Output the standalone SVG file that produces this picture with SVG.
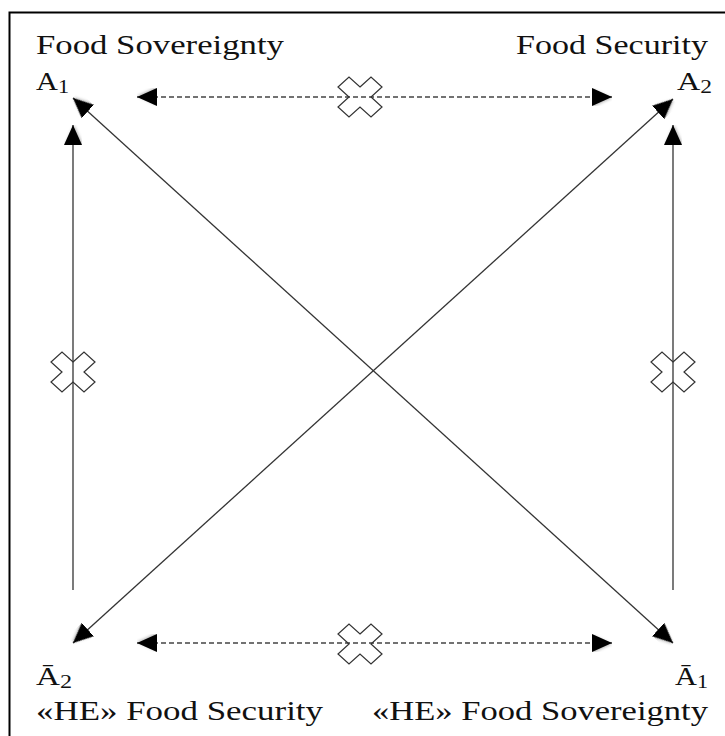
<svg xmlns="http://www.w3.org/2000/svg" width="725" height="736" viewBox="0 0 725 736">
  <style>
    .lbl { font-size: 28px; fill: #111; }
    .sym { font-size: 26px; fill: #111; }
    .sub { font-size: 19px; }
    .solid { stroke: #333; stroke-width: 1.3; fill: none; }
    .dash { stroke: #444; stroke-width: 1.3; fill: none; stroke-dasharray: 5 3; }
    .cross { fill: none; stroke: #333; stroke-width: 1.2; stroke-linejoin: miter; }
  </style>
  <defs>
    <filter id="sh" x="-50%" y="-50%" width="200%" height="200%">
      <feDropShadow dx="0" dy="1" stdDeviation="1.5" flood-color="#000" flood-opacity="0.3"/>
    </filter>
    <marker id="ah" viewBox="0 0 20 18" refX="20" refY="9" markerWidth="20" markerHeight="18" markerUnits="userSpaceOnUse" orient="auto-start-reverse">
      <path d="M0,0 L20,9 L0,18 z" fill="#000" filter="url(#sh)"/>
    </marker>
    <path id="x" d="M0,-10 L11,-20 L22,-10 L11,0 L22,10 L11,20 L0,10 L-11,20 L-22,10 L-11,0 L-22,-10 L-11,-20 Z"/>
  </defs>

  <rect x="0" y="0" width="725" height="736" fill="#fff"/>
  <rect id="frame" x="9.5" y="12.5" width="740" height="760" fill="none" stroke="#000" stroke-width="2"/>

  <g id="connectors">
    <line class="dash" x1="137" y1="97" x2="612" y2="97" marker-start="url(#ah)" marker-end="url(#ah)"/>
    <line class="dash" x1="137" y1="643" x2="612" y2="643" marker-start="url(#ah)" marker-end="url(#ah)"/>
    <line class="solid" x1="73" y1="590" x2="73" y2="125" marker-end="url(#ah)"/>
    <line class="solid" x1="673" y1="590" x2="673" y2="125" marker-end="url(#ah)"/>
    <line class="solid" x1="73" y1="98" x2="673" y2="643" marker-start="url(#ah)" marker-end="url(#ah)"/>
    <line class="solid" x1="673" y1="99" x2="73" y2="643" marker-start="url(#ah)" marker-end="url(#ah)"/>
    <use href="#x" class="cross" x="360" y="97"/>
    <use href="#x" class="cross" x="360" y="644"/>
    <use href="#x" class="cross" x="73" y="372"/>
    <use href="#x" class="cross" x="673" y="372"/>
  </g>

  <g id="labels" font-family="Liberation Serif, serif">
    <g id="node-A1">
      <text class="lbl" x="36" y="54" textLength="248" lengthAdjust="spacingAndGlyphs">Food Sovereignty</text>
      <text class="sym" x="36" y="90" textLength="33" lengthAdjust="spacingAndGlyphs">A<tspan class="sub" dy="3">1</tspan></text>
    </g>
    <g id="node-A2">
      <text class="lbl" x="516" y="54" textLength="192" lengthAdjust="spacingAndGlyphs">Food Security</text>
      <text class="sym" x="677" y="90" textLength="35" lengthAdjust="spacingAndGlyphs">A<tspan class="sub" dy="3">2</tspan></text>
    </g>
    <g id="node-notA2">
      <text class="sym" x="36" y="685" textLength="36" lengthAdjust="spacingAndGlyphs">Ā<tspan class="sub" dy="3">2</tspan></text>
      <text class="lbl" x="36" y="720" textLength="287" lengthAdjust="spacingAndGlyphs">«HE» Food Security</text>
    </g>
    <g id="node-notA1">
      <text class="sym" x="675" y="685" textLength="33" lengthAdjust="spacingAndGlyphs">Ā<tspan class="sub" dy="3">1</tspan></text>
      <text class="lbl" x="372" y="720" textLength="336" lengthAdjust="spacingAndGlyphs">«HE» Food Sovereignty</text>
    </g>
  </g>
</svg>
